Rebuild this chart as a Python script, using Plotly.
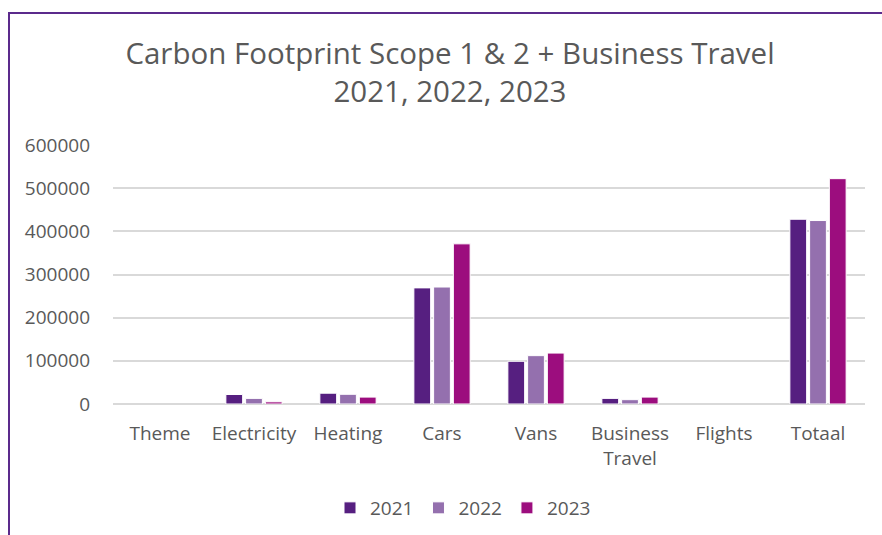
import plotly.graph_objects as go

categories = ["Theme", "Electricity", "Heating", "Cars", "Vans", "Business<br>Travel", "Flights", "Totaal"]
years = ["2021", "2022", "2023"]
values_2021 = [None, 22000, 25000, 269000, 99000, 13000, None, 428000]
values_2022 = [None, 13000, 22500, 271000, 112000, 10000, None, 425000]
values_2023 = [None, 5000, 16000, 371000, 118000, 16000, None, 522000]
colors = ["#561F80", "#9470AE", "#9C0D7E"]
y_ticks = [0, 100000, 200000, 300000, 400000, 500000, 600000]

W, H = 882, 535
L, R, T, B = 113, 17, 145, 131
pw, ph = W - L - R, H - T - B
bottom_px = H - B

fig = go.Figure()
for name, vals, col in zip(years, [values_2021, values_2022, values_2023], colors):
    fig.add_trace(go.Bar(x=categories, y=vals, name=name,
                         marker=dict(color=col, line=dict(color="#FFFFFF", width=1))))

fnt = "Open Sans, Noto Sans, sans-serif"
fig.update_layout(
    width=W, height=H,
    margin=dict(l=L, r=R, t=T, b=B),
    paper_bgcolor="white", plot_bgcolor="white",
    barmode="group", bargap=0.37, bargroupgap=0.15,
    font=dict(family=fnt, color="#595959", size=19),
    title=dict(text="Carbon Footprint Scope 1 &amp; 2 + Business Travel<br>2021, 2022, 2023",
               x=(450 - L) / pw, xref="paper", xanchor="center", y=1 - 64 / H, yanchor="top",
               font=dict(family=fnt, size=29.5, color="#595959")),
    legend=dict(orientation="h", x=(463 - L) / pw, xanchor="center",
                yref="container", y=(H - 508) / H, yanchor="middle",
                font=dict(size=19, color="#595959"), itemwidth=30, tracegroupgap=0),
    xaxis=dict(showgrid=False, showline=False, ticks="outside", ticklen=12, tickcolor="white",
               tickfont=dict(size=19, color="#595959"), automargin=False),
    yaxis=dict(range=[0, 600000], tickvals=y_ticks, ticktext=[str(v) for v in y_ticks],
               showgrid=True, gridcolor="#D9D9D9", gridwidth=1.5,
               zeroline=True, zerolinecolor="#D9D9D9", zerolinewidth=1.5,
               showline=False, ticks="", ticklabelstandoff=22, automargin=False,
               tickfont=dict(size=19, color="#595959")),
    shapes=[dict(type="rect", xref="paper", yref="paper",
                 x0=(9 - L) / pw, x1=(W + 20 - L) / pw,
                 y0=-(H + 20 - bottom_px) / ph, y1=(bottom_px - 13) / ph,
                 line=dict(color="#5B2A8C", width=2), fillcolor="rgba(0,0,0,0)", layer="above")],
)
fig.write_html("out.html", config={"displayModeBar": False},
               post_script="document.body.style.margin='0';document.body.style.overflow='hidden';")
